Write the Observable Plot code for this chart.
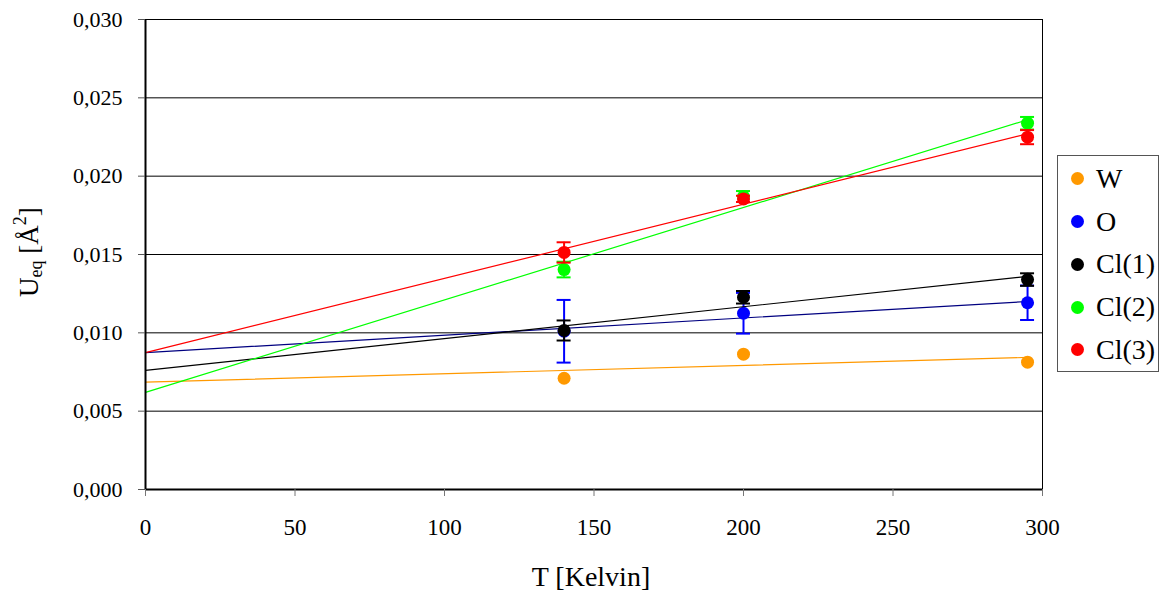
<!DOCTYPE html>
<html>
<head>
<meta charset="utf-8">
<script src="https://cdn.jsdelivr.net/npm/d3@7"></script>
<script src="https://cdn.jsdelivr.net/npm/@observablehq/plot@0.6"></script>
<style>
  html, body { margin: 0; padding: 0; background: #fff; }
  #wrap { position: relative; width: 1168px; height: 599px; font-family: "Liberation Serif", "DejaVu Serif", "Times New Roman", Times, serif; color: #000; }
  #legend { position: absolute; left: 1057px; top: 155px; width: 100px; height: 215px; border: 1px solid #555; background: #fff; }
  .row { position: absolute; left: 0; height: 40px; display: flex; align-items: center; font-size: 28px; line-height: 1; }
  .sw { width: 13px; height: 13px; border-radius: 50%; margin-left: 13px; margin-right: 12px; }
</style>
</head>
<body>
<div id="wrap"></div>
<script>
// ---- data ----
const temps = [140, 200, 295];
const series = ["W", "O", "Cl(1)", "Cl(2)", "Cl(3)"];
const markerColors = ["#FF9900", "#0000FF", "#000000", "#00FF00", "#FF0000"];
const lineColors = ["#FF9900", "#000080", "#000000", "#00FF00", "#FF0000"];

const uW   = [0.0071, 0.00864, 0.00813];
const uO   = [0.0101, 0.01125, 0.01192];
const uCl1 = [0.01015, 0.01227, 0.0134];
const uCl2 = [0.01404, 0.0187, 0.02338];
const uCl3 = [0.01513, 0.01855, 0.02249];

const eW   = [0, 0, 0];
const eO   = [0.002, 0.0013, 0.0011];
const eCl1 = [0.00064, 0.0004, 0.0004];
const eCl2 = [0.0005, 0.00035, 0.0004];
const eCl3 = [0.00065, 0.0002, 0.00045];

// linear trend lines (values at T = 0 and T = 295)
const fitT = [0, 295];
const fitW   = [0.00685, 0.00843];
const fitO   = [0.00874, 0.0120];
const fitCl1 = [0.0076, 0.0136];
const fitCl2 = [0.0062, 0.0236];
const fitCl3 = [0.00874, 0.0227];

const xTicks = [0, 50, 100, 150, 200, 250, 300];
const yTicks = [0, 0.005, 0.010, 0.015, 0.020, 0.025, 0.030];

// ---- build tables ----
const values = [uW, uO, uCl1, uCl2, uCl3];
const errors = [eW, eO, eCl1, eCl2, eCl3];
const fits = [fitW, fitO, fitCl1, fitCl2, fitCl3];

const font = "'Liberation Serif', 'DejaVu Serif', 'Times New Roman', Times, serif";
const marks = [];

marks.push(Plot.ruleY(yTicks.filter(d => d > 0), {stroke: "#000", strokeWidth: 1}));
marks.push(Plot.frame({stroke: "#000", strokeWidth: 1}));

series.forEach((s, i) => {
  const pts = temps.map((t, j) => ({T: t, U: values[i][j], E: errors[i][j], s}));
  const fit = fitT.map((t, j) => ({T: t, U: fits[i][j]}));
  marks.push(Plot.line(fit, {x: "T", y: "U", stroke: lineColors[i], strokeWidth: 1.2}));
  const withErr = pts.filter(d => d.E > 0);
  marks.push(Plot.ruleX(withErr, {x: "T", y1: d => d.U - d.E, y2: d => d.U + d.E, stroke: markerColors[i], strokeWidth: 2}));
  marks.push(Plot.ruleY(withErr, {y: d => d.U + d.E, x1: "T", x2: "T", insetLeft: -7, insetRight: -7, stroke: markerColors[i], strokeWidth: 2}));
  marks.push(Plot.ruleY(withErr, {y: d => d.U - d.E, x1: "T", x2: "T", insetLeft: -7, insetRight: -7, stroke: markerColors[i], strokeWidth: 2}));
  marks.push(Plot.dot(pts, {x: "T", y: "U", r: 6.5, fill: markerColors[i], stroke: "none"}));
});

marks.push(Plot.ruleX([0], {stroke: "#000", strokeWidth: 2}));
marks.push(Plot.ruleY([0], {stroke: "#000", strokeWidth: 2}));

marks.push(Plot.axisY({
  ticks: yTicks, tickSize: 7, tickPadding: 16, fontSize: 22,
  stroke: "#555", label: null,
  tickFormat: d => d3.format(".3f")(d).replace(".", ",")
}));
marks.push(Plot.axisX({
  ticks: xTicks, tickSize: 7, tickPadding: 22, fontSize: 23,
  stroke: "#777", label: null
}));

const chart = Plot.plot({
  width: 1168,
  height: 599,
  marginLeft: 145,
  marginRight: 126,
  marginTop: 19,
  marginBottom: 110,
  style: {fontFamily: font, color: "#000", background: "#fff", overflow: "visible"},
  x: {domain: [0, 300]},
  y: {domain: [0, 0.03]},
  marks
});

const svg = d3.select(chart);
svg.selectAll("text").style("font-family", font);
// x axis title
svg.append("text")
  .attr("x", 591).attr("y", 586)
  .attr("text-anchor", "middle")
  .style("font-family", font).attr("font-size", 28).attr("fill", "#000")
  .text("T [Kelvin]");
// y axis title with subscript and superscript
const yt = svg.append("text")
  .attr("transform", "translate(38,252) rotate(-90)")
  .attr("text-anchor", "middle")
  .style("font-family", font).attr("font-size", 27).attr("fill", "#000");
yt.append("tspan").text("U");
yt.append("tspan").attr("font-size", 18).attr("dy", 4).text("eq");
yt.append("tspan").attr("dy", -4).text(" [Å");
yt.append("tspan").attr("font-size", 18).attr("dy", -12).text("2");
yt.append("tspan").attr("dy", 12).text("]");

const wrap = document.getElementById("wrap");
wrap.appendChild(chart);

// legend
const legend = document.createElement("div");
legend.id = "legend";
series.forEach((s, i) => {
  const row = document.createElement("div");
  row.className = "row";
  row.style.top = (2.7 + 42.8 * i) + "px";
  const sw = document.createElement("span");
  sw.className = "sw";
  sw.style.background = markerColors[i];
  const tx = document.createElement("span");
  tx.textContent = s;
  row.appendChild(sw);
  row.appendChild(tx);
  legend.appendChild(row);
});
wrap.appendChild(legend);
</script>
</body>
</html>
